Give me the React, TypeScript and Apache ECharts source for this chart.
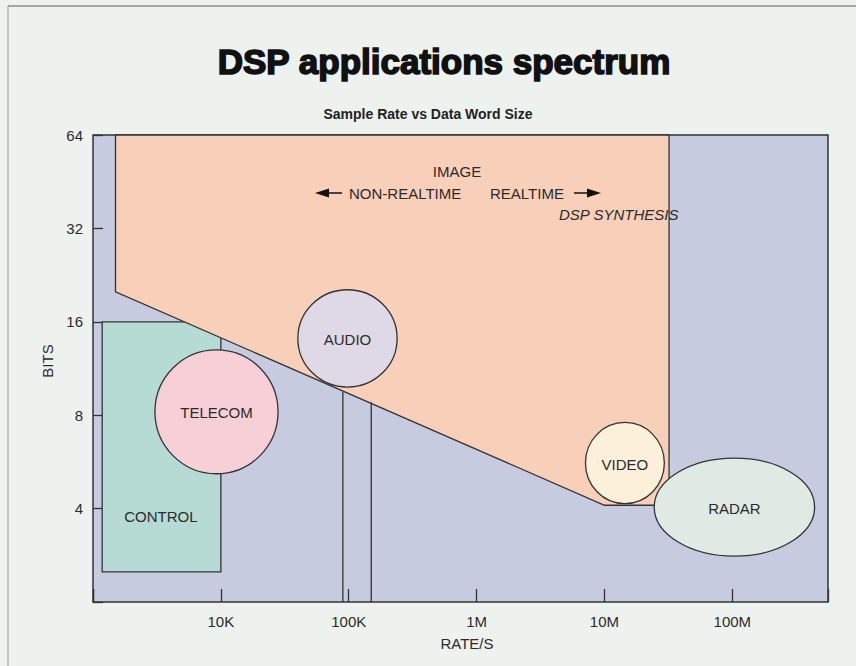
import React, { useEffect, useRef } from 'react';
import * as echarts from 'echarts';

// ---- axis ticks ----
const xTickValues = [1e4, 1e5, 1e6, 1e7, 1e8];
const xTickLabels = ['10K', '100K', '1M', '10M', '100M'];
const yTickValues = [4, 8, 16, 32, 64];
const yTickLabels = ['4', '8', '16', '32', '64'];
const rateRange = [1000, 5.6e8];
const bitsRange = [2, 64];

// ---- IMAGE region (polygon vertices) ----
const imageRate = [1500, 1500, 1.0e7, 3.2e7, 3.2e7];
const imageBits = [64, 20, 4.1, 4.1, 64];

// ---- CONTROL region ----
const controlRate = [1180, 10000];
const controlBits = [2.5, 16];
const controlLabelAt = [3400, 3.77];

// ---- boundary lines below AUDIO ----
const splitRate = [90000, 150000];
const splitTopBits = [9.5, 8.8];

// ---- application blobs ----
const blobNames = ['TELECOM', 'AUDIO', 'VIDEO', 'RADAR'];
const blobRateLow = [3050, 40000, 7.1e6, 2.45e7];
const blobRateHigh = [28000, 239000, 2.94e7, 4.4e8];
const blobBitsLow = [5.18, 9.86, 4.15, 2.81];
const blobBitsHigh = [13, 20.3, 7.58, 5.82];
const blobColors = ['#f6cfd7', '#dfd9e7', '#fcf0da', '#e0eae5'];

const FONT = "'Liberation Sans', Arial, sans-serif";
const INK = '#2b2b2b';
const LINE = '#333333';

export default function App() {
  const ref = useRef<HTMLDivElement>(null);

  useEffect(() => {
    document.body.style.margin = '0';
    document.body.style.background = '#edf2ee';
    const chart = echarts.init(ref.current!, null, { renderer: 'svg' });

    const findIdx = (arr: number[], v: number) =>
      arr.findIndex((t) => Math.abs(t - v) / t < 1e-6);

    const option: any = {
      animation: false,
      backgroundColor: '#edf2ee',
      title: [
        {
          text: 'DSP applications spectrum',
          left: 439,
          top: 39,
          textAlign: 'center',
          textStyle: {
            fontFamily: FONT,
            fontSize: 35,
            fontWeight: 'bold',
            color: '#111',
            textBorderColor: '#111',
            textBorderWidth: 1.6,
          },
        },
        {
          text: 'Sample Rate vs Data Word Size',
          left: 423,
          top: 102,
          textAlign: 'center',
          textStyle: {
            fontFamily: FONT,
            fontSize: 14,
            fontWeight: 'bold',
            color: '#222',
          },
        },
      ],
      grid: {
        left: 93,
        top: 135,
        right: 28,
        bottom: 64,
        show: true,
        backgroundColor: '#c6cbdf',
        borderColor: LINE,
        borderWidth: 1.5,
      },
      xAxis: {
        type: 'log',
        logBase: 10,
        min: rateRange[0],
        max: rateRange[1],
        name: 'RATE/S',
        nameLocation: 'middle',
        nameGap: 34,
        nameTextStyle: { fontFamily: FONT, fontSize: 15, color: INK, padding: [0, 0, 0, 13] },
        axisLine: { show: false },
        axisTick: { show: true, inside: true, length: 13, lineStyle: { color: LINE, width: 1.3 } },
        splitLine: { show: false },
        axisLabel: {
          interval: 0,
          margin: 12,
          fontFamily: FONT,
          fontSize: 15,
          color: INK,
          formatter: (v: number) => {
            const i = findIdx(xTickValues, v);
            return i >= 0 ? xTickLabels[i] : '';
          },
        },
      },
      yAxis: {
        type: 'log',
        logBase: 2,
        min: bitsRange[0],
        max: bitsRange[1],
        name: 'BITS',
        nameLocation: 'middle',
        nameGap: 36,
        nameTextStyle: { fontFamily: FONT, fontSize: 15, color: INK, padding: [0, 0, 0, 15] },
        axisLine: { show: false },
        axisTick: { show: true, inside: true, length: 10, lineStyle: { color: LINE, width: 1.3 } },
        splitLine: { show: false },
        axisLabel: {
          interval: 0,
          margin: 10,
          fontFamily: FONT,
          fontSize: 15,
          color: INK,
          padding: [5, 0, 0, 0],
          formatter: (v: number) => {
            const i = findIdx(yTickValues, v);
            return i >= 0 ? yTickLabels[i] : '';
          },
        },
      },
      series: [
        {
          type: 'custom',
          name: 'CONTROL',
          z: 2,
          data: [[controlRate[0], controlRate[1], controlBits[0], controlBits[1]]],
          encode: { x: [0, 1], y: [2, 3] },
          renderItem: (params: any, api: any) => {
            const tl = api.coord([api.value(0), api.value(3)]);
            const br = api.coord([api.value(1), api.value(2)]);
            const lab = api.coord(controlLabelAt);
            return {
              type: 'group',
              children: [
                {
                  type: 'rect',
                  shape: { x: tl[0], y: tl[1], width: br[0] - tl[0], height: br[1] - tl[1] },
                  style: { fill: '#b6dbd4', stroke: LINE, lineWidth: 1.3 },
                },
                {
                  type: 'text',
                  x: lab[0],
                  y: lab[1],
                  z2: 10,
                  style: {
                    text: 'CONTROL',
                    fill: INK,
                    font: `15px ${FONT}`,
                    align: 'center',
                    verticalAlign: 'middle',
                  },
                },
              ],
            };
          },
        },
        {
          type: 'custom',
          name: 'IMAGE',
          z: 3,
          data: imageRate.map((r, i) => [r, imageBits[i]]),
          encode: { x: 0, y: 1 },
          renderItem: (params: any, api: any) => {
            if (params.dataIndex !== 0) return null;
            const pts = imageRate.map((r, i) => api.coord([r, imageBits[i]]));
            return {
              type: 'polygon',
              shape: { points: pts },
              style: { fill: '#f8cfb8', stroke: LINE, lineWidth: 1.3 },
            };
          },
        },
        {
          type: 'custom',
          name: 'boundaries',
          z: 3,
          data: splitRate.map((r, i) => [r, splitTopBits[i]]),
          encode: { x: 0, y: 1 },
          renderItem: (params: any, api: any) => {
            const top = api.coord([api.value(0), api.value(1)]);
            const bot = api.coord([api.value(0), bitsRange[0]]);
            return {
              type: 'line',
              shape: { x1: top[0], y1: top[1], x2: bot[0], y2: bot[1] },
              style: { stroke: LINE, lineWidth: 1.3 },
            };
          },
        },
        {
          type: 'custom',
          name: 'applications',
          z: 4,
          data: blobNames.map((n, i) => [blobRateLow[i], blobRateHigh[i], blobBitsLow[i], blobBitsHigh[i]]),
          encode: { x: [0, 1], y: [2, 3] },
          renderItem: (params: any, api: any) => {
            const i = params.dataIndex;
            const tl = api.coord([api.value(0), api.value(3)]);
            const br = api.coord([api.value(1), api.value(2)]);
            const cx = (tl[0] + br[0]) / 2;
            const cy = (tl[1] + br[1]) / 2;
            return {
              type: 'group',
              children: [
                {
                  type: 'ellipse',
                  shape: { cx, cy, rx: (br[0] - tl[0]) / 2, ry: (br[1] - tl[1]) / 2 },
                  style: { fill: blobColors[i], stroke: LINE, lineWidth: 1.3 },
                },
                {
                  type: 'text',
                  x: cx,
                  y: cy + 1,
                  z2: 10,
                  style: {
                    text: blobNames[i],
                    fill: INK,
                    font: `15px ${FONT}`,
                    align: 'center',
                    verticalAlign: 'middle',
                  },
                },
              ],
            };
          },
        },
      ],
      graphic: [
        { type: 'line', shape: { x1: 8, y1: 6, x2: 856, y2: 6 }, style: { stroke: '#8c8c8c', lineWidth: 1.5 } },
        { type: 'line', shape: { x1: 8, y1: 6, x2: 8, y2: 666 }, style: { stroke: '#9a9a9a', lineWidth: 1 } },
        {
          type: 'text', x: 457, y: 171, z: 20,
          style: { text: 'IMAGE', fill: INK, font: `15px ${FONT}`, align: 'center', verticalAlign: 'middle' },
        },
        {
          type: 'text', x: 349, y: 193, z: 20,
          style: { text: 'NON-REALTIME', fill: INK, font: `15px ${FONT}`, align: 'left', verticalAlign: 'middle' },
        },
        {
          type: 'text', x: 490, y: 193, z: 20,
          style: { text: 'REALTIME', fill: INK, font: `15px ${FONT}`, align: 'left', verticalAlign: 'middle' },
        },
        {
          type: 'text', x: 559, y: 214, z: 20,
          style: { text: 'DSP SYNTHESIS', fill: INK, font: `italic 15px ${FONT}`, align: 'left', verticalAlign: 'middle' },
        },
        { type: 'line', z: 20, shape: { x1: 326, y1: 193, x2: 342, y2: 193 }, style: { stroke: '#111', lineWidth: 1.5 } },
        { type: 'polygon', z: 20, shape: { points: [[315, 193], [329, 188.5], [329, 197.5]] }, style: { fill: '#111' } },
        { type: 'line', z: 20, shape: { x1: 574, y1: 193, x2: 590, y2: 193 }, style: { stroke: '#111', lineWidth: 1.5 } },
        { type: 'polygon', z: 20, shape: { points: [[601, 193], [587, 188.5], [587, 197.5]] }, style: { fill: '#111' } },
      ],
    };

    chart.setOption(option);
    return () => chart.dispose();
  }, []);

  return (
    <div
      ref={ref}
      style={{ position: 'fixed', left: 0, top: 0, width: 856, height: 666 }}
    />
  );
}
